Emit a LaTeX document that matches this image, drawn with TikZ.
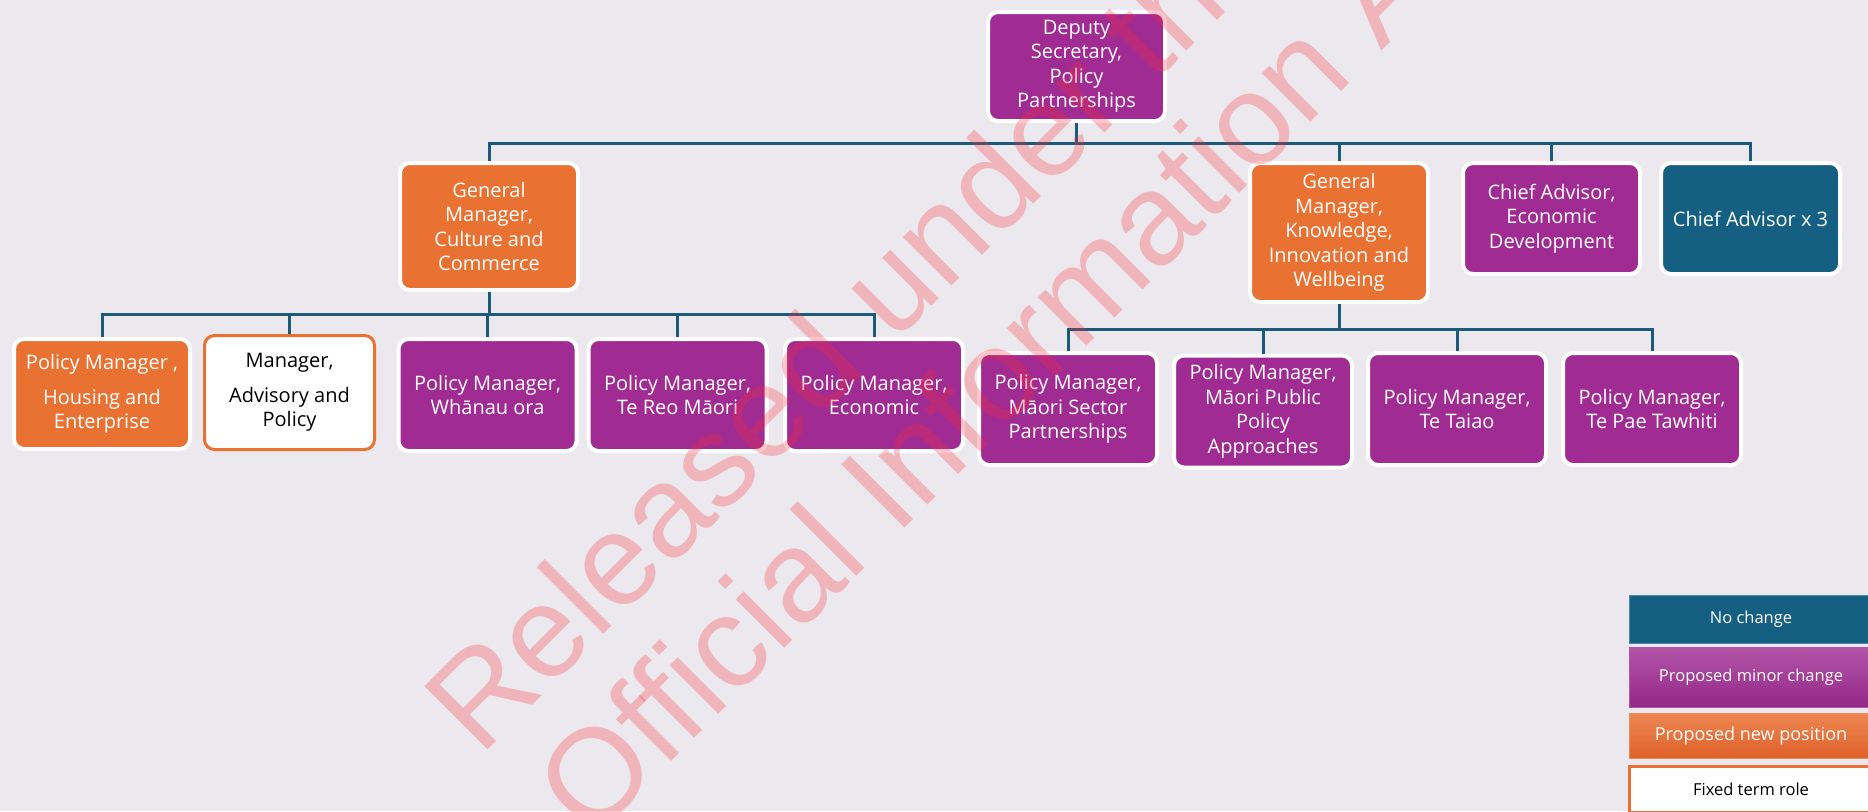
\documentclass[tikz,border=0pt]{standalone}
\usepackage{fontspec}
\setmainfont{Open Sans}
\newfontfamily\wmfont{Liberation Sans}
\usetikzlibrary{calc}
\definecolor{bg}{HTML}{EBE9EE}
\definecolor{cpurple}{HTML}{A02B93}
\definecolor{corange}{HTML}{E97132}
\definecolor{cteal}{HTML}{156082}
\definecolor{cline}{HTML}{1B5A78}
\definecolor{wm}{HTML}{FF2A35}
\tikzset{
  box/.style={rounded corners=10pt, draw=white, line width=4pt, text=white, align=center,
    font=\fontsize{20}{24.5}\selectfont, inner sep=0pt, minimum width=178pt, minimum height=112pt},
  purplebox/.style={box, fill=cpurple},
  orangebox/.style={box, fill=corange},
  tealbox/.style={box, fill=cteal},
  fixedbox/.style={box, fill=white, draw=corange, line width=3pt, text=black},
  conn/.style={draw=cline, line width=3pt},
  legendbox/.style={inner sep=0pt, minimum width=244pt, text=white, font=\fontsize{16.5}{20}\selectfont},
  wmtext/.style={font=\wmfont\fontsize{130}{130}\selectfont, rotate=45, anchor=base west, text=wm, text opacity=0.27}
}
\begin{document}
\begin{tikzpicture}[x=1pt,y=-1pt]
\useasboundingbox (0,0) rectangle (1868,811);
\fill[bg] (0,0) rectangle (1868,811);

% bus levels
\coordinate (bus1) at (0,143);
\coordinate (lbus) at (0,314);
\coordinate (rbus) at (0,329);

% top
\node[purplebox, minimum width=177pt, minimum height=109pt] (ds) at (1076.5,66.5) {Deputy\\Secretary,\\Policy\\Partnerships};

% second level
\node[orangebox, minimum height=127pt] (gmcc) at (489,226.5) {General\\Manager,\\Culture and\\Commerce};
\node[orangebox, minimum height=139pt] (gmkiw) at (1339,232.5) {General\\Manager,\\Knowledge,\\Innovation and\\Wellbeing};
\node[purplebox, minimum width=177pt, minimum height=111pt] (cae) at (1551.5,218.5) {Chief Advisor,\\Economic\\Development};
\node[tealbox, minimum width=179pt, minimum height=111pt] (ca3) at (1750.5,218.5) {Chief Advisor x 3};

% left group
\node[orangebox, minimum width=176pt, minimum height=110pt] (pmhe) at (102,394) {Policy Manager ,\\[10pt]Housing and\\Enterprise};
\node[fixedbox, minimum width=170pt, minimum height=114pt] (mad) at (289.5,392.5) {Manager,\\[10pt]Advisory and\\Policy};
\node[purplebox] (pmwo) at (487.5,395) {Policy Manager,\\Whānau ora};
\node[purplebox] (pmtr) at (677.5,395) {Policy Manager,\\Te Reo Māori};
\node[purplebox] (pmec) at (874,395) {Policy Manager,\\Economic};

% right group
\node[purplebox] (pmms) at (1068,409) {Policy Manager,\\Māori Sector\\Partnerships};
\node[purplebox] (pmmp) at (1263,411.5) {Policy Manager,\\Māori Public\\Policy\\Approaches};
\node[purplebox] (pmtt) at (1457,409) {Policy Manager,\\Te Taiao};
\node[purplebox] (pmtp) at (1652,409) {Policy Manager,\\Te Pae Tawhiti};

% connectors level 1
\foreach \c in {gmcc,gmkiw,cae,ca3}
  \draw[conn] (ds.south) |- (\c.north |- bus1) -- (\c.north);
% connectors left group
\foreach \c in {pmhe,mad,pmwo,pmtr,pmec}
  \draw[conn] (gmcc.south) |- (\c.north |- lbus) -- (\c.north);
% connectors right group
\foreach \c in {pmms,pmmp,pmtt,pmtp}
  \draw[conn] (gmkiw.south) |- (\c.north |- rbus) -- (\c.north);

% legend
\node[legendbox, fill=cteal, draw=cteal!75!white, line width=1pt, minimum height=48pt] (lg1) at (1751,619) {No change};
\node[legendbox, top color=cpurple!80!white, bottom color=cpurple!92!black, draw=cpurple!80!white, line width=1pt, minimum height=60pt] (lg2) at (1751,677) {Proposed minor change};
\node[legendbox, top color=corange!85!white, bottom color=corange!90!red!95!black, draw=corange!80!white, line width=1pt, minimum height=45pt, font=\fontsize{18}{20}\selectfont] (lg3) at (1751,735.5) {Proposed new position};
\node[legendbox, fill=white, draw=corange, line width=3pt, text=black, minimum height=46pt] (lg4) at (1751,789) {Fixed term role};

% watermark
\node[wmtext] (wm1) at (478,760) {Released under the};
\node[wmtext] (wm2) at (589,844) {Official Information Act};
\end{tikzpicture}
\end{document}
